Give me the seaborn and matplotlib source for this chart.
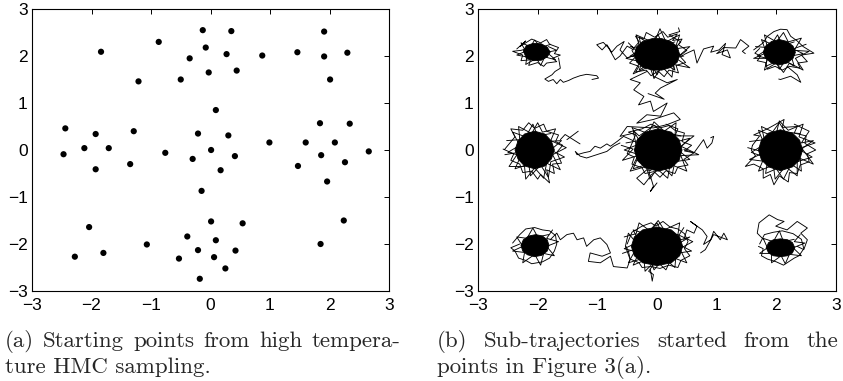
import matplotlib
matplotlib.use("Agg")
import matplotlib.pyplot as plt
import numpy as np
import pandas as pd
import seaborn as sns

sns.set_style("white")
plt.rcParams["font.family"] = ["Liberation Sans", "DejaVu Sans"]

# (a) starting points from high temperature HMC
start_x = [-0.13, 0.35, 1.91, -0.87, -1.84, -0.08, 0.27, -0.35, 0.87, 1.46,
           1.91, 2.30, -0.50, -0.03, 0.44, 2.01, -1.21, 0.09, -2.44, -1.93,
           -1.29, -0.21, 0.30, 1.84, 2.34, -2.12, -1.71, -2.47, 0.99, 1.60,
           2.09, 0.01, -0.76, -0.30, 0.41, 1.86, 2.66, -1.35, -1.93, 0.17,
           1.47, 2.26, 1.96, -0.15, 2.24, 0.01, 0.54, -2.04, -0.39, 0.09,
           -1.07, 1.85, -0.21, 0.42, -1.80, -2.28, 0.06, -0.53, 0.25, -0.18]
start_y = [2.55, 2.53, 2.52, 2.30, 2.09, 2.18, 2.04, 1.95, 2.01, 2.08,
           1.99, 2.07, 1.50, 1.65, 1.69, 1.50, 1.46, 0.85, 0.46, 0.34,
           0.40, 0.35, 0.31, 0.57, 0.56, 0.04, 0.04, -0.09, 0.16, 0.16,
           0.16, 0.00, -0.06, -0.19, -0.13, -0.11, -0.03, -0.30, -0.41, -0.43,
           -0.34, -0.26, -0.67, -0.87, -1.50, -1.52, -1.56, -1.64, -1.84, -1.92,
           -2.01, -2.00, -2.13, -2.14, -2.19, -2.27, -2.28, -2.31, -2.52, -2.74]

# (b) dense cores of the sub-trajectories (outline of the solid black part)
cores = {
    "m2_2": [(-2.24, 2.11), (-2.19, 2.22), (-2.07, 2.27), (-1.94, 2.26), (-1.84, 2.19),
             (-1.79, 2.08), (-1.84, 1.98), (-1.94, 1.91), (-2.07, 1.90), (-2.19, 1.95)],
    "0_2": [(-0.38, 2.03), (-0.34, 2.20), (-0.24, 2.31), (-0.08, 2.37), (0.08, 2.37),
            (0.23, 2.31), (0.34, 2.20), (0.38, 2.03), (0.34, 1.87), (0.24, 1.76),
            (0.08, 1.70), (-0.08, 1.70), (-0.24, 1.76), (-0.34, 1.87)],
    "2_2": [(1.78, 2.08), (1.82, 2.21), (1.92, 2.31), (2.05, 2.35), (2.18, 2.31),
            (2.28, 2.21), (2.32, 2.08), (2.28, 1.95), (2.18, 1.85), (2.05, 1.81),
            (1.92, 1.85), (1.82, 1.95)],
    "m2_0": [(-2.38, 0.00), (-2.33, 0.19), (-2.22, 0.34), (-2.05, 0.40), (-1.88, 0.34),
             (-1.77, 0.19), (-1.72, 0.00), (-1.77, -0.19), (-1.88, -0.34), (-2.05, -0.40),
             (-2.22, -0.34), (-2.33, -0.19)],
    "0_0": [(-0.38, 0.00), (-0.33, 0.22), (-0.20, 0.38), (0.02, 0.45), (0.24, 0.38),
            (0.37, 0.22), (0.42, 0.00), (0.37, -0.22), (0.24, -0.38), (0.02, -0.45),
            (-0.20, -0.38), (-0.33, -0.22)],
    "2_0": [(1.70, 0.00), (1.75, 0.21), (1.87, 0.36), (2.07, 0.43), (2.27, 0.36),
            (2.39, 0.21), (2.44, 0.00), (2.39, -0.21), (2.27, -0.36), (2.07, -0.44),
            (1.87, -0.36), (1.75, -0.21)],
    "m2_m2": [(-2.28, -2.03), (-2.24, -1.91), (-2.15, -1.83), (-2.03, -1.80), (-1.92, -1.83),
              (-1.84, -1.91), (-1.81, -2.03), (-1.84, -2.15), (-1.93, -2.24), (-2.05, -2.27),
              (-2.17, -2.23), (-2.25, -2.15)],
    "0_m2": [(-0.43, -2.05), (-0.38, -1.85), (-0.24, -1.70), (0.00, -1.64), (0.24, -1.70),
             (0.38, -1.85), (0.43, -2.05), (0.38, -2.25), (0.24, -2.40), (0.00, -2.46),
             (-0.24, -2.40), (-0.38, -2.25)],
    "2_m2": [(1.83, -2.08), (1.87, -1.97), (1.95, -1.91), (2.07, -1.89), (2.19, -1.91),
             (2.27, -1.97), (2.31, -2.08), (2.27, -2.19), (2.19, -2.25), (2.07, -2.27),
             (1.95, -2.25), (1.87, -2.19)],
}

# (b) trajectory pieces: ragged fringes round the cores and the trails between them
trajectories = {
    "f_m2_2": [(-2.35, 2.15), (-2.20, 2.32), (-2.30, 2.20), (-2.10, 2.36), (-1.95, 2.28),
               (-1.85, 2.35), (-1.80, 2.25), (-1.65, 2.18), (-1.72, 2.05), (-1.62, 2.02),
               (-1.75, 1.95), (-1.68, 1.88), (-1.85, 1.85), (-1.90, 1.78), (-2.00, 1.86),
               (-2.15, 1.80), (-2.12, 1.92), (-2.28, 1.90), (-2.25, 2.02), (-2.42, 2.10),
               (-2.28, 2.12), (-2.05, 2.20), (-1.80, 2.10), (-1.95, 1.95), (-2.18, 2.05)],
    "g_m2_2": [(-1.78, 2.25), (-1.95, 2.18), (-2.05, 2.34), (-2.12, 2.20), (-2.28, 2.28),
               (-2.20, 2.10), (-2.35, 2.02), (-2.18, 1.98), (-2.20, 1.82), (-2.02, 1.95),
               (-1.95, 1.80), (-1.88, 1.98), (-1.70, 1.92), (-1.85, 2.08), (-1.68, 2.12),
               (-1.82, 2.20)],
    "f_0_2": [(-0.30, 2.30), (-0.42, 2.12), (-0.36, 1.98), (-0.46, 1.85), (-0.30, 1.78),
              (-0.36, 1.66), (-0.18, 1.70), (-0.10, 1.58), (0.02, 1.68), (0.12, 1.56),
              (0.20, 1.70), (0.36, 1.64), (0.32, 1.80), (0.48, 1.86), (0.38, 2.00),
              (0.50, 2.12), (0.36, 2.24), (0.42, 2.36), (0.26, 2.33), (0.34, 2.47),
              (0.18, 2.40), (0.10, 2.52), (-0.04, 2.40), (-0.18, 2.50), (-0.22, 2.36),
              (-0.36, 2.42), (-0.30, 2.30)],
    "g_0_2": [(0.30, 2.30), (0.10, 2.22), (0.02, 2.45), (-0.12, 2.25), (-0.30, 2.40),
              (-0.25, 2.15), (-0.45, 2.00), (-0.22, 1.95), (-0.30, 1.70), (-0.10, 1.85),
              (0.00, 1.60), (0.10, 1.85), (0.30, 1.70), (0.25, 1.95), (0.45, 2.00),
              (0.25, 2.10), (0.40, 2.30), (0.20, 2.45), (0.38, 2.52), (0.36, 2.60)],
    "h_0_2": [(-0.45, 2.20), (-0.28, 2.15), (-0.35, 2.45), (-0.05, 2.28), (0.05, 2.58),
              (0.15, 2.30), (0.38, 2.45), (0.30, 2.15), (0.55, 2.20), (0.32, 1.95),
              (0.55, 1.75), (0.28, 1.82), (0.25, 1.55), (0.08, 1.78), (-0.05, 1.52),
              (-0.12, 1.78), (-0.40, 1.62), (-0.28, 1.88), (-0.52, 1.95), (-0.30, 2.05),
              (-0.48, 2.28)],
    "f_2_2": [(1.62, 2.13), (1.78, 2.28), (1.85, 2.42), (1.96, 2.52), (2.07, 2.57),
              (2.18, 2.56), (2.24, 2.42), (2.35, 2.32), (2.45, 2.20), (2.63, 2.06),
              (2.42, 2.02), (2.52, 1.88), (2.36, 1.85), (2.40, 1.74), (2.22, 1.78),
              (2.10, 1.70), (1.98, 1.78), (1.85, 1.72), (1.82, 1.86), (1.68, 1.90),
              (1.74, 2.00), (1.64, 2.06), (1.72, 2.16)],
    "g_2_2": [(2.30, 2.30), (2.10, 2.22), (2.02, 2.45), (1.92, 2.25), (1.75, 2.35),
              (1.82, 2.12), (1.68, 2.00), (1.85, 1.95), (1.82, 1.78), (2.00, 1.88),
              (2.05, 1.72), (2.15, 1.90), (2.30, 1.78), (2.25, 2.00), (2.45, 2.05),
              (2.28, 2.15), (2.50, 2.25)],
    "h_2_2": [(1.65, 2.20), (1.85, 2.18), (1.80, 2.45), (2.00, 2.30), (2.12, 2.50),
              (2.20, 2.30), (2.42, 2.38), (2.30, 2.12), (2.55, 2.10), (2.32, 1.95),
              (2.45, 1.70), (2.22, 1.85), (2.12, 1.65), (2.00, 1.85), (1.80, 1.70),
              (1.85, 1.95), (1.62, 1.95), (1.80, 2.05)],
    "f_m2_0": [(-2.55, 0.02), (-2.38, 0.28), (-2.45, 0.45), (-2.25, 0.42), (-2.15, 0.58),
               (-2.05, 0.46), (-1.90, 0.55), (-1.85, 0.40), (-1.65, 0.32), (-1.70, 0.18),
               (-1.58, 0.10), (-1.68, -0.05), (-1.60, -0.28), (-1.75, -0.30), (-1.72, -0.50),
               (-1.85, -0.42), (-1.80, -0.70), (-1.95, -0.52), (-2.00, -0.62), (-2.10, -0.45),
               (-2.25, -0.48), (-2.30, -0.30), (-2.45, -0.22), (-2.40, -0.08), (-2.58, 0.02)],
    "g_m2_0": [(-1.78, 0.35), (-2.00, 0.30), (-2.08, 0.55), (-2.20, 0.28), (-2.42, 0.38),
               (-2.30, 0.10), (-2.50, -0.05), (-2.28, -0.12), (-2.38, -0.40), (-2.15, -0.30),
               (-2.12, -0.55), (-1.95, -0.32), (-1.82, -0.58), (-1.78, -0.25), (-1.55, -0.15),
               (-1.78, 0.00), (-1.60, 0.20), (-1.85, 0.18)],
    "h_m2_0": [(-2.52, 0.20), (-2.30, 0.22), (-2.32, 0.50), (-2.10, 0.35), (-2.00, 0.58),
               (-1.92, 0.38), (-1.70, 0.45), (-1.78, 0.20), (-1.52, 0.05), (-1.75, -0.10),
               (-1.62, -0.42), (-1.85, -0.28), (-1.90, -0.60), (-2.05, -0.38), (-2.20, -0.62),
               (-2.22, -0.35), (-2.48, -0.35), (-2.32, -0.05), (-2.55, -0.10)],
    "f_0_0": [(-0.45, 0.05), (-0.36, 0.32), (-0.48, 0.38), (-0.25, 0.45), (-0.10, 0.55),
              (0.05, 0.47), (0.20, 0.52), (0.30, 0.42), (0.46, 0.36), (0.42, 0.18),
              (0.58, 0.10), (0.46, -0.02), (0.62, -0.06), (0.45, -0.20), (0.52, -0.32),
              (0.35, -0.36), (0.30, -0.50), (0.15, -0.44), (0.05, -0.58), (-0.05, -0.46),
              (-0.20, -0.50), (-0.25, -0.38), (-0.42, -0.30), (-0.38, -0.15), (-0.50, -0.08),
              (-0.45, 0.05)],
    "g_0_0": [(0.40, 0.30), (0.10, 0.38), (-0.05, 0.52), (-0.30, 0.30), (-0.40, 0.42),
              (-0.35, 0.10), (-0.55, 0.00), (-0.30, -0.10), (-0.40, -0.40), (-0.15, -0.30),
              (-0.12, -0.55), (0.10, -0.35), (0.25, -0.55), (0.30, -0.25), (0.55, -0.20),
              (0.35, 0.00), (0.55, 0.25), (0.25, 0.15), (0.35, 0.45), (0.15, 0.55)],
    "h_0_0": [(-0.52, 0.15), (-0.30, 0.20), (-0.42, 0.48), (-0.15, 0.35), (-0.05, 0.60),
              (0.12, 0.40), (0.32, 0.58), (0.30, 0.30), (0.62, 0.30), (0.40, 0.08),
              (0.70, -0.10), (0.40, -0.12), (0.50, -0.45), (0.22, -0.30), (0.18, -0.60),
              (0.00, -0.40), (-0.12, -0.62), (-0.18, -0.35), (-0.45, -0.45), (-0.32, -0.12),
              (-0.58, -0.22), (-0.40, 0.02), (-0.60, 0.10)],
    "f_2_0": [(1.60, 0.10), (1.72, 0.30), (1.62, 0.32), (1.85, 0.45), (1.95, 0.52),
              (2.13, 0.65), (2.10, 0.48), (2.35, 0.50), (2.30, 0.36), (2.50, 0.30),
              (2.48, 0.14), (2.66, 0.00), (2.52, -0.08), (2.55, -0.25), (2.40, -0.32),
              (2.35, -0.50), (2.22, -0.48), (2.20, -0.68), (2.05, -0.55), (1.96, -0.74),
              (1.90, -0.52), (1.78, -0.60), (1.78, -0.40), (1.62, -0.30), (1.48, -0.35),
              (1.65, -0.12), (1.58, 0.00), (1.60, 0.10)],
    "g_2_0": [(2.40, 0.35), (2.15, 0.38), (2.05, 0.58), (1.90, 0.32), (1.70, 0.42),
              (1.80, 0.12), (1.58, -0.05), (1.80, -0.15), (1.70, -0.45), (1.95, -0.32),
              (1.98, -0.62), (2.15, -0.35), (2.35, -0.55), (2.35, -0.25), (2.60, -0.15),
              (2.40, 0.00), (2.62, 0.20), (2.42, 0.15), (2.55, 0.40), (2.30, 0.55)],
    "h_2_0": [(1.55, 0.18), (1.80, 0.22), (1.75, 0.50), (2.00, 0.35), (2.05, 0.62),
              (2.20, 0.42), (2.45, 0.55), (2.38, 0.28), (2.65, 0.15), (2.42, 0.05),
              (2.62, -0.30), (2.40, -0.18), (2.42, -0.45), (2.25, -0.30), (2.12, -0.62),
              (2.00, -0.40), (1.82, -0.50), (1.85, -0.25), (1.55, -0.20), (1.80, -0.05),
              (1.52, 0.05)],
    "f_m2_m2": [(-2.42, -1.98), (-2.30, -1.80), (-2.20, -1.68), (-2.05, -1.65), (-1.92, -1.70),
                (-1.80, -1.72), (-1.70, -1.82), (-1.68, -2.00), (-1.72, -2.15), (-1.80, -2.30),
                (-1.92, -2.38), (-2.10, -2.42), (-2.20, -2.35), (-2.32, -2.30), (-2.38, -2.15),
                (-2.45, -2.08), (-2.30, -2.00)],
    "g_m2_m2": [(-1.82, -1.80), (-2.00, -1.85), (-2.08, -1.66), (-2.18, -1.88), (-2.35, -1.85),
                (-2.25, -2.05), (-2.42, -2.15), (-2.22, -2.18), (-2.25, -2.40), (-2.05, -2.22),
                (-1.95, -2.45), (-1.90, -2.20), (-1.72, -2.25), (-1.85, -2.05), (-1.65, -1.95),
                (-1.85, -1.88), (-1.75, -1.70)],
    "f_0_m2": [(-0.50, -2.00), (-0.42, -1.75), (-0.25, -1.62), (-0.10, -1.55), (-0.02, -1.62),
               (0.10, -1.52), (0.22, -1.64), (0.35, -1.68), (0.46, -1.78), (0.52, -1.95),
               (0.46, -2.10), (0.55, -2.25), (0.40, -2.35), (0.35, -2.50), (0.20, -2.45),
               (0.05, -2.52), (-0.10, -2.48), (-0.25, -2.50), (-0.30, -2.40), (-0.45, -2.32),
               (-0.48, -2.15), (-0.52, -2.05)],
    "g_0_m2": [(0.35, -1.80), (0.10, -1.80), (0.00, -1.55), (-0.15, -1.80), (-0.40, -1.70),
               (-0.30, -1.95), (-0.55, -2.10), (-0.30, -2.18), (-0.40, -2.45), (-0.12, -2.30),
               (-0.05, -2.55), (0.12, -2.30), (0.30, -2.50), (0.32, -2.20), (0.58, -2.15),
               (0.35, -2.00), (0.55, -1.85), (0.30, -1.95), (0.45, -1.65)],
    "h_0_m2": [(-0.55, -1.85), (-0.35, -1.78), (-0.30, -1.55), (-0.12, -1.72), (0.02, -1.50),
               (0.12, -1.70), (0.38, -1.55), (0.35, -1.80), (0.60, -1.95), (0.38, -2.10),
               (0.50, -2.40), (0.25, -2.28), (0.15, -2.55), (-0.02, -2.35), (-0.20, -2.58),
               (-0.22, -2.30), (-0.48, -2.40), (-0.35, -2.10), (-0.58, -2.20)],
    "f_2_m2": [(1.72, -2.00), (1.80, -1.80), (1.95, -1.75), (2.10, -1.72), (2.28, -1.78),
               (2.42, -1.90), (2.46, -2.10), (2.38, -2.25), (2.30, -2.30), (2.12, -2.45),
               (2.00, -2.38), (1.85, -2.32), (1.75, -2.25), (1.78, -2.10), (1.70, -2.05)],
    "g_2_m2": [(2.30, -1.90), (2.12, -1.95), (2.05, -1.72), (1.95, -1.95), (1.78, -1.88),
               (1.85, -2.08), (1.72, -2.20), (1.92, -2.20), (1.92, -2.40), (2.08, -2.25),
               (2.15, -2.42), (2.22, -2.22), (2.42, -2.25), (2.28, -2.08), (2.48, -1.98),
               (2.30, -1.95), (2.40, -1.80)],
    "t_m2_2_down": [(-1.65, 1.96), (-1.62, 1.74), (-1.71, 1.67), (-1.76, 1.60), (-1.88, 1.51),
                    (-1.82, 1.46), (-1.74, 1.50), (-1.68, 1.41), (-1.62, 1.50), (-1.57, 1.44),
                    (-1.48, 1.48), (-1.40, 1.53), (-1.29, 1.58), (-1.18, 1.61), (-1.01, 1.58),
                    (-0.98, 1.53), (-1.09, 1.50)],
    "t_0_2_left": [(-0.34, 2.03), (-0.50, 1.96), (-0.62, 2.13), (-0.55, 2.31), (-0.67, 2.21),
                   (-0.76, 2.08), (-0.84, 2.24), (-0.92, 2.13), (-1.01, 2.24), (-0.90, 2.29),
                   (-0.81, 2.17), (-0.70, 1.92), (-0.62, 2.00), (-0.50, 2.21), (-0.39, 2.13)],
    "t_0_2_right": [(0.45, 2.03), (0.62, 2.13), (0.67, 1.85), (0.78, 2.15), (0.95, 2.21),
                    (0.90, 2.08), (1.04, 2.13), (1.15, 2.27), (1.09, 2.03), (1.23, 1.96),
                    (1.18, 2.13), (1.00, 2.05), (1.12, 2.18), (1.32, 2.17), (1.40, 2.35),
                    (1.54, 2.21), (1.43, 2.10), (1.48, 2.05)],
    "t_0_2_to_0_0": [(-0.17, 1.67), (-0.45, 1.50), (-0.28, 1.43), (-0.39, 1.28), (-0.22, 1.14),
                     (-0.31, 0.96), (-0.11, 1.04), (-0.06, 0.82), (0.17, 1.00), (0.06, 0.72),
                     (-0.17, 0.75), (-0.34, 0.57), (-0.06, 0.65), (0.28, 0.79), (0.39, 0.65),
                     (0.17, 0.54), (-0.06, 0.47), (-0.50, 0.50), (-0.62, 0.29), (-0.39, 0.36)],
    "t_0_2_branch": [(-0.06, 1.70), (-0.06, 1.57), (0.17, 1.43), (0.34, 1.50), (0.06, 1.32),
                     (-0.03, 1.21), (0.12, 1.08), (-0.15, 1.20)],
    "t_0_0_left": [(-0.40, 0.20), (-0.56, 0.29), (-0.67, 0.18), (-0.78, 0.08), (-0.84, 0.13),
                   (-0.95, 0.04), (-1.04, 0.08), (-1.12, -0.03), (-1.23, -0.06), (-1.34, -0.10),
                   (-1.37, -0.03), (-1.29, -0.13), (-1.18, -0.17), (-1.01, -0.10), (-0.84, -0.03),
                   (-0.73, 0.08), (-0.62, 0.15)],
    "t_cross_a": [(-1.62, 0.22), (-1.54, 0.33), (-1.29, 0.13)],
    "t_cross_b": [(-1.51, 0.22), (-1.32, 0.40)],
    "t_0_0_right": [(0.45, 0.01), (0.62, -0.06), (0.70, 0.08), (0.78, 0.22), (0.84, 0.04),
                    (0.92, 0.15), (0.95, 0.29), (0.90, 0.26)],
    "t_0_0_down": [(-0.10, -0.44), (-0.17, -0.42), (-0.34, -0.60), (-0.22, -0.74), (-0.11, -0.56),
                   (-0.06, -0.77), (-0.11, -0.88), (0.00, -0.70)],
    "t_m2_m2_right": [(-1.79, -1.91), (-1.68, -1.77), (-1.62, -1.91), (-1.51, -1.80), (-1.40, -1.77),
                      (-1.34, -1.91), (-1.23, -1.87), (-1.18, -2.05), (-1.06, -1.91), (-0.95, -1.87),
                      (-0.84, -2.01), (-0.78, -2.19), (-0.92, -2.26), (-1.12, -2.19), (-1.15, -2.37),
                      (-0.95, -2.40), (-0.78, -2.26), (-0.73, -2.48), (-0.50, -2.51), (-0.45, -2.33),
                      (-0.53, -2.05), (-0.48, -1.77), (-0.39, -1.91)],
    "t_0_m2_right": [(0.45, -1.91), (0.50, -1.70), (0.62, -1.77), (0.67, -1.62), (0.56, -1.52),
                     (0.76, -1.70), (0.84, -1.84), (0.78, -2.01), (0.90, -1.91), (0.95, -1.73),
                     (1.06, -1.91), (1.12, -1.77), (1.18, -1.91), (0.95, -1.80), (0.81, -2.12),
                     (0.73, -2.19)],
    "t_0_m2_down": [(-0.06, -2.44), (-0.14, -2.58), (-0.06, -2.65), (-0.08, -2.79), (-0.11, -2.55)],
    "t_2_m2_loop": [(1.79, -1.91), (1.68, -1.77), (1.71, -1.55), (1.88, -1.38), (2.02, -1.48),
                    (2.13, -1.52), (1.99, -1.62), (2.18, -1.70), (2.35, -1.52), (2.52, -1.66),
                    (2.41, -1.77), (2.52, -1.91), (2.46, -2.12), (2.35, -2.05)],
    "t_2_2_down": [(2.18, 1.78), (2.35, 1.60), (2.41, 1.44), (2.24, 1.57), (2.07, 1.50),
                   (2.04, 1.51)],
}

fig = plt.figure(figsize=(8.43, 3.81), dpi=100)
ax_a = fig.add_axes([32 / 843, 1 - 291 / 381, 357 / 843, 282 / 381])
ax_b = fig.add_axes([478 / 843, 1 - 291 / 381, 358 / 843, 282 / 381])

sns.scatterplot(x=start_x, y=start_y, ax=ax_a, color="black", s=20,
                edgecolor="none", legend=False)

for name, pts in cores.items():
    xs, ys = zip(*pts)
    ax_b.fill(xs, ys, color="black", linewidth=0.6, zorder=2)

rows = []
for name, pts in trajectories.items():
    for i, (x, y) in enumerate(pts):
        rows.append({"traj": name, "step": i, "x": x, "y": y})
traj_df = pd.DataFrame(rows)
sns.lineplot(data=traj_df, x="x", y="y", units="traj", estimator=None,
             sort=False, color="black", linewidth=0.65, ax=ax_b, legend=False)

for ax in (ax_a, ax_b):
    ax.set_xlim(-3, 3)
    ax.set_ylim(-3, 3)
    ax.set_xticks(np.arange(-3, 4))
    ax.set_yticks(np.arange(-3, 4))
    ax.set_xlabel("")
    ax.set_ylabel("")
    ax.tick_params(direction="in", length=3.5, width=0.7, top=True, right=True,
                   labelsize=12.5, colors="black")
    ax.tick_params(axis="x", pad=5)
    ax.tick_params(axis="y", pad=3)
    for spine in ax.spines.values():
        spine.set_visible(True)
        spine.set_color("black")
        spine.set_linewidth(0.8)


def justified_line(words, x0, x1, y, size):
    renderer = fig.canvas.get_renderer()
    texts = [fig.text(0, y, w, family="cmr10", fontsize=size, va="baseline", ha="left")
             for w in words]
    widths = [t.get_window_extent(renderer).width for t in texts]
    gap = ((x1 - x0) - sum(widths)) / (len(words) - 1)
    x = x0
    for t, w in zip(texts, widths):
        t.set_x(x / 843)
        x += w + gap


cap_size = 16.5
line1_y = 1 - 347 / 381
line2_y = 1 - 373 / 381
justified_line(["(a)", "Starting", "points", "from", "high", "tempera-"], 5, 400, line1_y, cap_size)
fig.text(5 / 843, line2_y, "ture HMC sampling.", family="cmr10",
         fontsize=cap_size, va="baseline", ha="left")
justified_line(["(b)", "Sub-trajectories", "started", "from", "the"], 437, 838, line1_y, cap_size)
fig.text(437 / 843, line2_y, "points in Figure 3(a).", family="cmr10",
         fontsize=cap_size, va="baseline", ha="left")

fig.savefig("out.png", dpi=100)
plt.close(fig)
